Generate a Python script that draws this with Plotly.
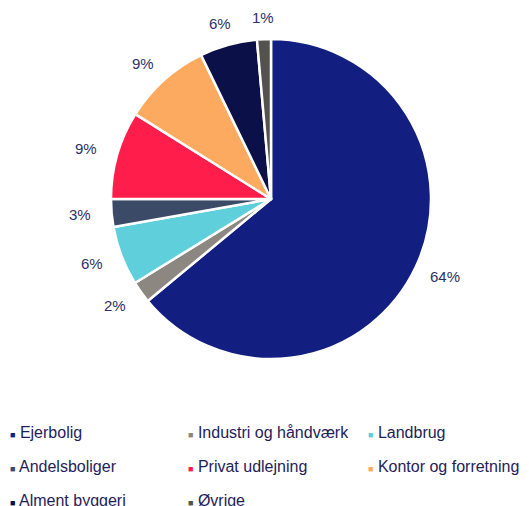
import math
import plotly.graph_objects as go

categories = ["Ejerbolig", "Industri og håndværk", "Landbrug", "Andelsboliger",
              "Privat udlejning", "Kontor og forretning", "Alment byggeri", "Øvrige"]
values = [64.0, 2.2, 6.0, 2.8, 8.9, 8.9, 5.8, 1.4]
labels = ["64%", "2%", "6%", "3%", "9%", "9%", "6%", "1%"]
colors = ["#121f80", "#8c8781", "#5fcfdb", "#3b4a66",
          "#ff1e4b", "#fdaa61", "#0b1048", "#54524c"]

W, H = 529, 506
B = 110                      # bottom margin reserved for the legend
PH = H - B                   # plot-area height
OFF = 8                      # page body margin
CX, CY, R = 271 - OFF, 199 - OFF, 160   # pie centre (figure px) and radius
LABEL_RX, LABEL_RY = 192, 182
TEXT_COLOR = "#2d3068"
LEG_COLOR = "#1f2259"


def px_x(x):
    return x / W


def px_y(y):
    return (PH - y) / PH


fig = go.Figure()
fig.add_trace(go.Pie(
    values=values, labels=categories, sort=False, direction="clockwise", rotation=0,
    marker=dict(colors=colors, line=dict(color="white", width=2.5)),
    textinfo="none", hoverinfo="label+percent", showlegend=False,
    domain=dict(x=[px_x(CX - R), px_x(CX + R)],
                y=[px_y(CY + R), px_y(CY - R)]),
))

# labels outside slices, placed at the mid-angle of each slice
total = sum(values)
cum = 0.0
for v, t in zip(values, labels):
    mid = (cum + v / 2) / total * 2 * math.pi
    cum += v
    lx = CX + LABEL_RX * math.sin(mid)
    ly = CY - LABEL_RY * math.cos(mid)
    fig.add_annotation(x=px_x(lx), y=px_y(ly), xref="paper", yref="paper",
                       text=t, showarrow=False, xanchor="center", yanchor="middle",
                       font=dict(family="Liberation Sans, Arial", size=15, color=TEXT_COLOR))

# legend: three columns (entries fill rows left to right)
legend_names = ["legend", "legend2", "legend3"]
for i, (name, col) in enumerate(zip(categories, colors)):
    fig.add_trace(go.Scatter(
        x=[None], y=[None], mode="markers",
        name=f"<span style='color:{col};font-size:9px'>■</span> {name}",
        marker=dict(symbol="square", size=1, color="rgba(0,0,0,0)"),
        legend=legend_names[i % 3], legendgroup=name, showlegend=True,
    ))

col_glyph_x = [10, 188, 368]   # page x of the legend squares
top_y = 432 - OFF - 17
leg_common = dict(orientation="v", traceorder="grouped", tracegroupgap=10,
                  itemwidth=30, bgcolor="rgba(0,0,0,0)",
                  font=dict(family="Liberation Sans, Arial", size=16, color=LEG_COLOR),
                  xanchor="left", yanchor="top", y=px_y(top_y))
fig.update_layout(
    width=W, height=H, margin=dict(l=0, r=0, t=0, b=B, autoexpand=False),
    paper_bgcolor="white", plot_bgcolor="white",
    xaxis=dict(visible=False), yaxis=dict(visible=False),
    legend=dict(**leg_common, x=px_x(col_glyph_x[0] - OFF - 40)),
    legend2=dict(**leg_common, x=px_x(col_glyph_x[1] - OFF - 40)),
    legend3=dict(**leg_common, x=px_x(col_glyph_x[2] - OFF - 40)),
)

fig.write_html("out.html")
